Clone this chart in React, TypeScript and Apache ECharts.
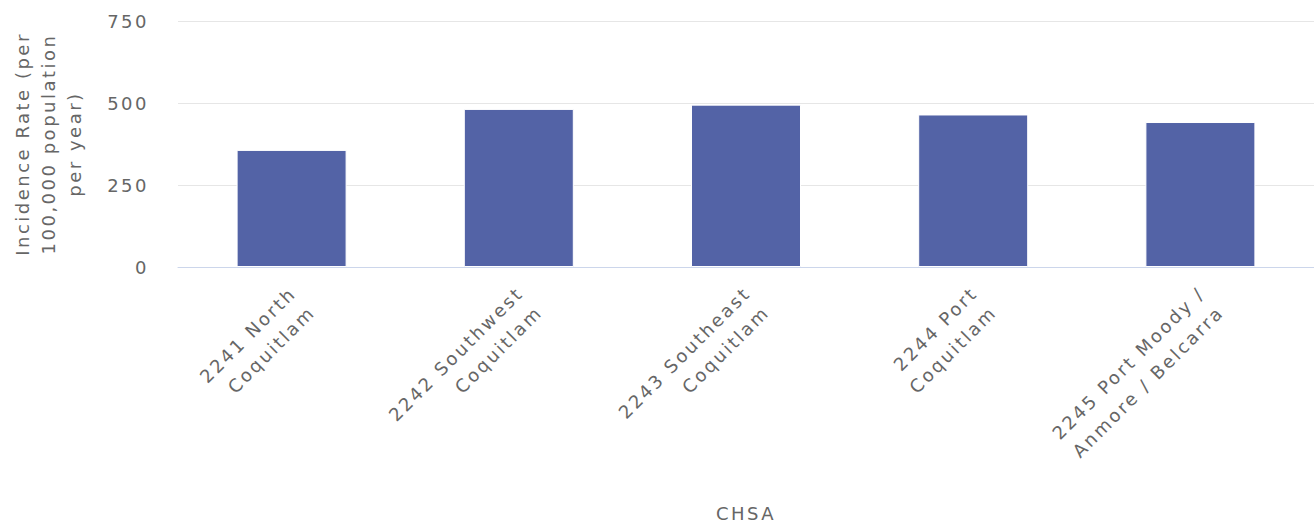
import React, { useEffect, useRef } from "react";
import * as echarts from "echarts";

const categories = [
  "2241 North\nCoquitlam",
  "2242 Southwest\nCoquitlam",
  "2243 Southeast\nCoquitlam",
  "2244 Port\nCoquitlam",
  "2245 Port Moody /\nAnmore / Belcarra",
];
const values = [357, 482, 495, 465, 442];
const yTicks = { min: 0, max: 750, interval: 250 };
const yName = "Incidence Rate (per\n100,000 population\nper year)";
const xName = "CHSA";

const FONT = "DejaVu Sans";
const TEXT = "#666666";

export default function App() {
  const ref = useRef<HTMLDivElement>(null);
  useEffect(() => {
    document.body.style.margin = "0";
    const chart = echarts.init(ref.current!, undefined, { renderer: "svg" });
    chart.setOption({
      animation: false,
      textStyle: { fontFamily: FONT },
      grid: { left: 178, right: 0, top: 21, bottom: 254.5, containLabel: false },
      xAxis: {
        type: "category",
        data: categories,
        name: xName,
        nameLocation: "middle",
        nameGap: 237,
        nameTextStyle: { color: TEXT, fontSize: 18, fontFamily: FONT },
        axisLine: { lineStyle: { color: "#ccd6eb", width: 1 } },
        axisTick: { show: false },
        axisLabel: {
          rotate: 45,
          interval: 0,
          margin: 5,
          color: TEXT,
          fontSize: 18,
          lineHeight: 27,
          fontFamily: FONT,
          align: "right",
          verticalAlign: "top",
          padding: [0, 12, 0, 0],
        },
      },
      yAxis: {
        type: "value",
        min: yTicks.min,
        max: yTicks.max,
        interval: yTicks.interval,
        name: yName,
        nameLocation: "middle",
        nameGap: 91,
        nameTextStyle: { color: TEXT, fontSize: 18, lineHeight: 26, fontFamily: FONT },
        axisLine: { show: false },
        axisTick: { show: false },
        splitLine: { lineStyle: { color: "#e6e6e6", width: 1 } },
        axisLabel: { color: TEXT, fontSize: 18, margin: 29, fontFamily: FONT },
      },
      series: [
        {
          type: "bar",
          data: values,
          barWidth: 110,
          itemStyle: { color: "#5363a6", borderColor: "#ffffff", borderWidth: 1 },
        },
      ],
    });
    return () => chart.dispose();
  }, []);
  return (
    <>
      <style>{`.chart-box svg text { letter-spacing: 2.5px; }`}</style>
      <div
        ref={ref}
        className="chart-box"
        style={{ position: "absolute", left: 0, top: 0, width: 1314, height: 523 }}
      />
    </>
  );
}
